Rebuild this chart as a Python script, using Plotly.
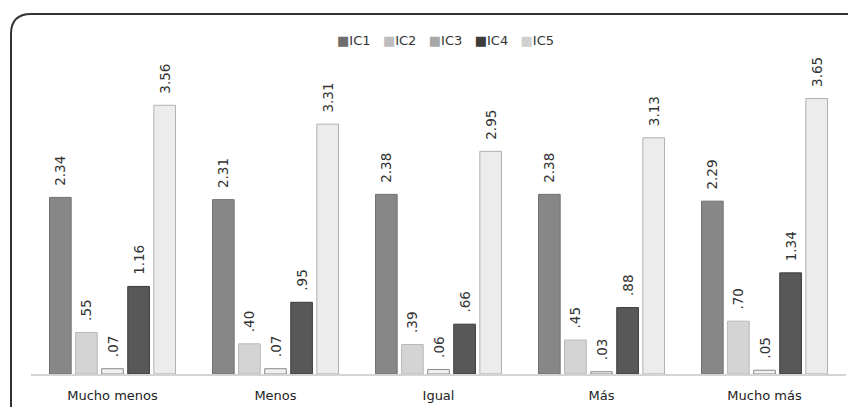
import plotly.graph_objects as go

categories = ["Mucho menos", "Menos", "Igual", "Más", "Mucho más"]
series_names = ["IC1", "IC2", "IC3", "IC4", "IC5"]
ic1 = [2.34, 2.31, 2.38, 2.38, 2.29]
ic2 = [0.55, 0.40, 0.39, 0.45, 0.70]
ic3 = [0.07, 0.07, 0.06, 0.03, 0.05]
ic4 = [1.16, 0.95, 0.66, 0.88, 1.34]
ic5 = [3.56, 3.31, 2.95, 3.13, 3.65]
values = [ic1, ic2, ic3, ic4, ic5]

fill_colors = ["#878787", "#d4d4d4", "#f0f0f0", "#585858", "#ececec"]
line_colors = ["#707070", "#b8b8b8", "#8a8a8a", "#3a3a3a", "#b0b0b0"]
legend_colors = ["#6e6e6e", "#bdbdbd", "#a8a8a8", "#3c3c3c", "#d0d0d0"]

FONT = "DejaVu Sans"


def fmt(v):
    s = f"{v:.2f}"
    s = s[1:] if s.startswith("0") else s
    return "\u00a0\u00a0" + s


# page body has an 8px margin -> figure drawn at (8, 8)
W, H = 848, 399
ml, mr, mt, mb = 23, 10, 52, 33

fig = go.Figure()
for name, vals, fc, lc in zip(series_names, values, fill_colors, line_colors):
    fig.add_trace(go.Bar(
        x=categories, y=vals, name=name,
        marker=dict(color=fc, line=dict(color=lc, width=1)),
        text=[fmt(v) for v in vals],
        textposition="outside", textangle=-90,
        constraintext="none",
        textfont=dict(family=FONT, size=13.5, color="#333333"),
        cliponaxis=False,
        showlegend=False,
    ))

pw = W - ml - mr
ph = H - mt - mb


def px(x):
    return (x - ml) / pw


def py(y):
    return (H - mb - y) / ph


# rounded border (partly outside the picture), figure pixel coords
x0, y0, x1, y1, r = 3, 6, 880, 430, 20
path = (f"M {px(x0)},{py(y0 + r)} "
        f"Q {px(x0)},{py(y0)} {px(x0 + r)},{py(y0)} "
        f"L {px(x1)},{py(y0)} "
        f"M {px(x0)},{py(y0 + r)} L {px(x0)},{py(y1)}")

legend_parts = []
for name, c in zip(series_names, legend_colors):
    legend_parts.append(f"<span style='color:{c}'>■</span>{name}")
legend_text = "&nbsp;&nbsp;&nbsp;".join(legend_parts)

fig.update_layout(
    width=W, height=H,
    margin=dict(l=ml, r=mr, t=mt, b=mb),
    paper_bgcolor="white", plot_bgcolor="white",
    barmode="group", bargap=0.2, bargroupgap=0.17,
    font=dict(family=FONT, size=13, color="#333333"),
    xaxis=dict(showline=True, linecolor="#d4d4d4", linewidth=1.5, automargin=False,
               ticks="", showgrid=False, ticklabelstandoff=9,
               tickfont=dict(family=FONT, size=13, color="#222222")),
    yaxis=dict(range=[0, 4.16], visible=False, showgrid=False, automargin=False),
    shapes=[dict(type="path", path=path, xref="paper", yref="paper",
                 line=dict(color="#333333", width=2))],
    annotations=[dict(text=legend_text, x=px(438), y=py(32), xref="paper", yref="paper",
                      xanchor="center", yanchor="middle", showarrow=False,
                      font=dict(family=FONT, size=13, color="#333333"))],
)

fig.write_html("out.html")
